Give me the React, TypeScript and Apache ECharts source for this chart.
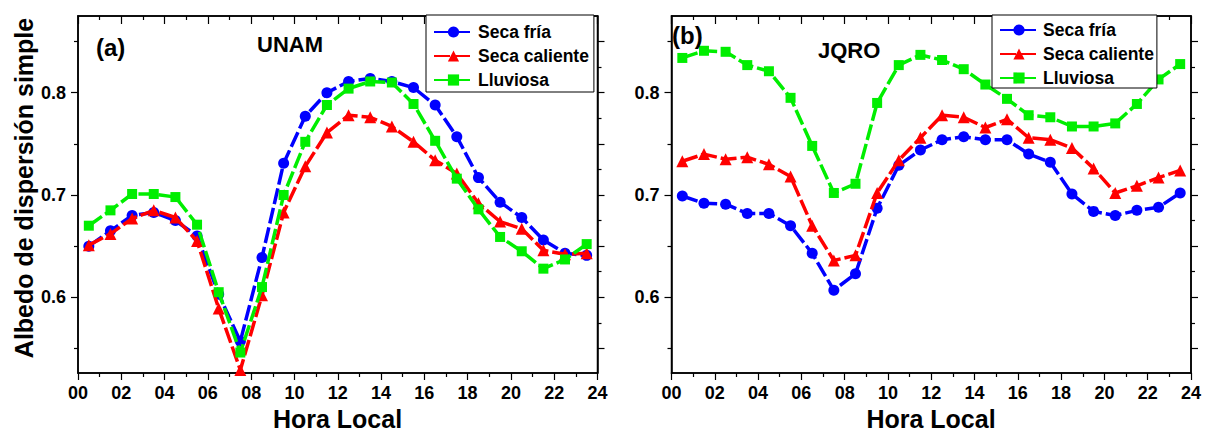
import React, { useEffect, useRef } from "react";
import * as echarts from "echarts";

const hours = [0.5, 1.5, 2.5, 3.5, 4.5, 5.5, 6.5, 7.5, 8.5, 9.5, 10.5, 11.5, 12.5, 13.5, 14.5, 15.5, 16.5, 17.5, 18.5, 19.5, 20.5, 21.5, 22.5, 23.5];
const seriesNames = ["Seca fría", "Seca caliente", "Lluviosa"];

const unamSecaFria = [0.650, 0.665, 0.680, 0.683, 0.675, 0.660, 0.603, 0.557, 0.639, 0.731, 0.777, 0.800, 0.811, 0.814, 0.811, 0.805, 0.788, 0.757, 0.717, 0.693, 0.678, 0.656, 0.643, 0.641];
const unamSecaCaliente = [0.651, 0.662, 0.677, 0.685, 0.678, 0.655, 0.589, 0.529, 0.602, 0.683, 0.728, 0.761, 0.778, 0.776, 0.767, 0.752, 0.734, 0.721, 0.692, 0.674, 0.667, 0.646, 0.642, 0.643];
const unamLluviosa = [0.670, 0.685, 0.701, 0.701, 0.698, 0.671, 0.605, 0.546, 0.610, 0.700, 0.752, 0.788, 0.804, 0.811, 0.810, 0.789, 0.753, 0.716, 0.686, 0.659, 0.645, 0.628, 0.637, 0.652];

const jqroSecaFria = [0.699, 0.692, 0.691, 0.682, 0.682, 0.670, 0.643, 0.607, 0.623, 0.687, 0.729, 0.744, 0.754, 0.757, 0.754, 0.754, 0.740, 0.732, 0.701, 0.684, 0.680, 0.685, 0.688, 0.702];
const jqroSecaCaliente = [0.733, 0.740, 0.735, 0.737, 0.730, 0.718, 0.670, 0.636, 0.641, 0.702, 0.734, 0.756, 0.778, 0.776, 0.766, 0.774, 0.756, 0.754, 0.746, 0.726, 0.702, 0.709, 0.717, 0.724];
const jqroLluviosa = [0.834, 0.841, 0.840, 0.827, 0.821, 0.795, 0.748, 0.702, 0.711, 0.790, 0.827, 0.837, 0.832, 0.823, 0.808, 0.794, 0.778, 0.776, 0.767, 0.767, 0.770, 0.789, 0.813, 0.828];

const yLabelValues = [0.6, 0.7, 0.8];
const yLeftMinorTicks = [0.55, 0.65, 0.75, 0.85];
const yRightMajorTicks = [0.55, 0.6, 0.65, 0.7, 0.75, 0.8, 0.85];
const yRightMinorTicks = [0.575, 0.625, 0.675, 0.725, 0.775, 0.825];

const FONT = "'Liberation Sans', Arial, sans-serif";
const COLORS = ["#0000ff", "#ff0000", "#00ee00"];
const SYMBOLS = ["circle", "triangle", "rect"];
const SYMBOL_SIZES = [11, 12, 10];
const Y_MIN = 0.526;
const Y_MAX = 0.875;

export default function App() {
  const ref = useRef<HTMLDivElement>(null);
  useEffect(() => {
    if (!ref.current) return;
    const chart = echarts.init(ref.current, null, { renderer: "svg" });

    const grids = [
      { left: 78, top: 16, width: 519.5, height: 357, show: true, borderColor: "#000", borderWidth: 1.5, backgroundColor: "transparent" },
      { left: 671.5, top: 16, width: 519.5, height: 357, show: true, borderColor: "#000", borderWidth: 1.5, backgroundColor: "transparent" },
    ];

    const tickSty = { color: "#000", width: 1.2 };
    const xAxes: any[] = [];
    const yAxes: any[] = [];
    grids.forEach((_, gi) => {
      xAxes.push({
        type: "value",
        gridIndex: gi,
        min: 0,
        max: 24,
        interval: 2,
        position: "bottom",
        axisLine: { show: true, onZero: false, lineStyle: { color: "#000", width: 1.5 } },
        axisTick: { show: true, inside: false, length: 7, lineStyle: tickSty },
        minorTick: { show: true, splitNumber: 2, length: 4, lineStyle: tickSty },
        splitLine: { show: false },
        axisLabel: {
          fontFamily: FONT,
          fontWeight: "bold",
          fontSize: 18,
          color: "#000",
          margin: 11,
          formatter: (v: number) => String(v).padStart(2, "0"),
        },
      });
      xAxes.push({
        type: "value",
        gridIndex: gi,
        min: 0,
        max: 24,
        interval: 2,
        position: "top",
        axisLine: { show: true, onZero: false, lineStyle: { color: "#000", width: 1.5 } },
        axisTick: { show: true, inside: true, length: 8, lineStyle: tickSty },
        minorTick: { show: true, splitNumber: 2, length: 4, lineStyle: tickSty },
        splitLine: { show: false },
        axisLabel: { show: false },
      });
      yAxes.push({
        type: "value",
        gridIndex: gi,
        min: Y_MIN,
        max: Y_MAX,
        position: "left",
        axisLine: { show: true, onZero: false, lineStyle: { color: "#000", width: 1.5 } },
        axisTick: { show: true, inside: false, length: 7, customValues: yLabelValues, lineStyle: tickSty },
        splitLine: { show: false },
        axisLabel: {
          customValues: yLabelValues,
          fontFamily: FONT,
          fontWeight: "bold",
          fontSize: 18,
          color: "#000",
          margin: 12,
          formatter: (v: number) => v.toFixed(1),
        },
      });
      yAxes.push({
        type: "value",
        gridIndex: gi,
        min: Y_MIN,
        max: Y_MAX,
        position: "left",
        axisLine: { show: false, onZero: false },
        axisTick: { show: true, inside: false, length: 4, customValues: yLeftMinorTicks, lineStyle: tickSty },
        splitLine: { show: false },
        axisLabel: { show: false },
      });
      yAxes.push({
        type: "value",
        gridIndex: gi,
        min: Y_MIN,
        max: Y_MAX,
        position: "right",
        axisLine: { show: true, onZero: false, lineStyle: { color: "#000", width: 1.5 } },
        axisTick: { show: true, inside: false, length: 7, customValues: yRightMajorTicks, lineStyle: tickSty },
        splitLine: { show: false },
        axisLabel: { show: false },
      });
      yAxes.push({
        type: "value",
        gridIndex: gi,
        min: Y_MIN,
        max: Y_MAX,
        position: "right",
        axisLine: { show: false, onZero: false },
        axisTick: { show: true, inside: false, length: 4, customValues: yRightMinorTicks, lineStyle: tickSty },
        splitLine: { show: false },
        axisLabel: { show: false },
      });
    });

    const panelData = [
      [unamSecaFria, unamSecaCaliente, unamLluviosa],
      [jqroSecaFria, jqroSecaCaliente, jqroLluviosa],
    ];

    const series: any[] = [];
    panelData.forEach((sets, gi) => {
      sets.forEach((vals, si) => {
        series.push({
          type: "line",
          name: seriesNames[si],
          xAxisIndex: gi * 2,
          yAxisIndex: gi * 4,
          data: hours.map((h, i) => [h, vals[i]]),
          symbol: SYMBOLS[si],
          symbolSize: SYMBOL_SIZES[si],
          itemStyle: { color: COLORS[si] },
          lineStyle: { color: COLORS[si], width: 3.5, type: [16, 4] },
          z: 2 + si,
        });
      });
    });

    const legendCommon = {
      orient: "vertical",
      data: seriesNames,
      itemHeight: 14,
      itemGap: 6,
      backgroundColor: "#fff",
      borderColor: "#000",
      borderWidth: 1,
      borderRadius: 0,
      textStyle: { fontFamily: FONT, fontWeight: "bold", fontSize: 17.5, color: "#000" },
      selectedMode: false,
      z: 20,
    };

    const txt = (text: string, x: number, y: number, size: number, align = "left") => ({
      type: "text",
      x,
      y,
      style: {
        text,
        font: `bold ${size}px ${FONT}`,
        fill: "#000",
        textAlign: align,
        textVerticalAlign: "middle",
      },
      z: 100,
    });

    chart.setOption({
      animation: false,
      backgroundColor: "#fff",
      grid: grids,
      xAxis: xAxes,
      yAxis: yAxes,
      series,
      legend: [
        { ...legendCommon, left: 426, top: 15, itemWidth: 39, padding: [8, 5, 3, 7] },
        { ...legendCommon, left: 992, top: 15, itemWidth: 38, padding: [6, 3, 1, 7] },
      ],
      graphic: [
        txt("(a)", 96, 47, 24),
        txt("UNAM", 257, 44, 22),
        txt("(b)", 672, 35, 24),
        txt("JQRO", 818, 50, 22),
        txt("Hora Local", 337.5, 419, 25, "center"),
        txt("Hora Local", 931, 419, 25, "center"),
        {
          type: "text",
          x: 24,
          y: 188,
          rotation: Math.PI / 2,
          style: {
            text: "Albedo de dispersión simple",
            font: `bold 25px ${FONT}`,
            fill: "#000",
            textAlign: "center",
            textVerticalAlign: "middle",
          },
          z: 100,
        },
      ],
    });

    return () => chart.dispose();
  }, []);

  return (
    <div
      ref={ref}
      style={{ position: "fixed", left: 0, top: 0, width: 1209, height: 434, background: "#fff" }}
    />
  );
}
